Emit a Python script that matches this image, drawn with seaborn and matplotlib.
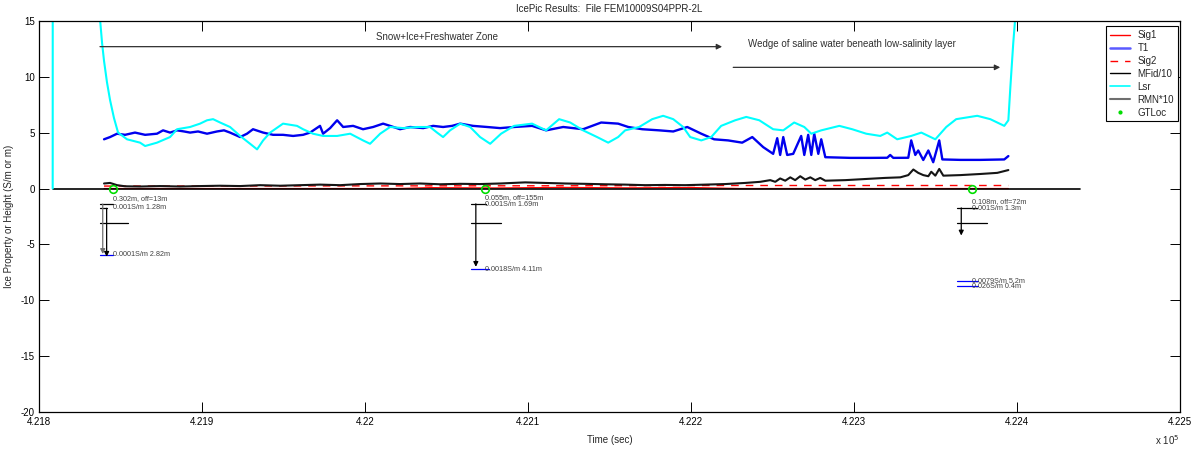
import matplotlib
matplotlib.use("Agg")
import matplotlib.pyplot as plt
import pandas as pd
import seaborn as sns
from matplotlib.lines import Line2D

# ---------------------------------------------------------------- series data
# T1 (S/m) along the survey line
t1_time = [421839.9, 421843.6, 421847.9, 421852.8, 421858.9, 421865.1, 421872.4, 421876.1, 421880.4, 421884.7,
           421889.0, 421892.7, 421897.6, 421903.1, 421909.2, 421913.5, 421917.2, 421923.4, 421927.6, 421931.3,
           421937.5, 421943.6, 421949.7, 421955.9, 421962.0, 421966.3, 421972.4, 421974.3, 421978.6, 421982.9,
           421986.6, 421992.7, 421998.8, 422005.0, 422011.1, 422015.4, 422021.5, 422027.7, 422035.7, 422041.8,
           422047.9, 422053.4, 422058.4, 422066.3, 422074.9, 422082.9, 422091.5, 422102.5, 422111.1, 422121.6,
           422133.8, 422144.9, 422155.3, 422161.5, 422170.1, 422180.5, 422189.1, 422197.7, 422206.3, 422214.2,
           422222.8, 422231.4, 422237.6, 422244.3, 422250.4, 422252.9, 422254.7, 422256.6, 422259.0, 422262.7,
           422267.6, 422269.5, 422271.9, 422273.8, 422275.6, 422278.1, 422279.9, 422282.4, 422297.7, 422310.0,
           422320.4, 422322.2, 422324.1, 422333.3, 422335.1, 422337.6, 422339.4, 422342.5, 422345.6, 422348.6,
           422352.3, 422354.2, 422365.2, 422377.5, 422392.2, 422394.7]
t1_value = [4.4, 4.6, 4.9, 4.8, 5.0, 4.8, 4.9, 5.2, 5.0, 5.2,
            5.1, 5.0, 5.1, 4.9, 5.1, 5.2, 5.0, 4.6, 4.9, 5.3,
            5.0, 4.8, 4.8, 4.7, 4.8, 5.0, 5.6, 4.9, 5.4, 6.1,
            5.5, 5.6, 5.3, 5.5, 5.8, 5.6, 5.3, 5.5, 5.4, 5.6,
            5.5, 5.6, 5.8, 5.6, 5.5, 5.4, 5.5, 5.6, 5.2, 5.5,
            5.3, 5.9, 5.8, 5.5, 5.3, 5.2, 5.1, 5.5, 4.9, 4.4,
            4.3, 4.1, 4.6, 3.7, 3.1, 4.5, 3.0, 4.6, 3.0, 3.1,
            4.7, 3.0, 4.8, 3.0, 4.9, 3.1, 4.4, 2.8, 2.74, 2.74,
            2.75, 3.0, 2.74, 2.75, 4.3, 3.0, 3.4, 2.55, 3.4, 2.35,
            4.3, 2.6, 2.56, 2.56, 2.6, 2.9]

# Laser range (m)
lsr_time = [421808.4, 421808.5, 421836.8, 421837.4, 421838.7, 421839.9, 421841.7, 421843.6, 421846.0, 421848.5,
            421854.0, 421862.0, 421865.1, 421872.4, 421880.4, 421884.7, 421892.7, 421898.8, 421903.1, 421906.8,
            421911.1, 421917.2, 421923.4, 421929.5, 421933.8, 421937.5, 421941.8, 421949.7, 421958.3, 421962.0,
            421968.1, 421974.3, 421982.9, 421990.9, 421998.8, 422003.1, 422009.3, 422015.4, 422023.4, 422032.0,
            422039.9, 422044.2, 422047.9, 422052.2, 422058.4, 422064.5, 422070.6, 422076.8, 422083.5, 422091.5,
            422102.5, 422111.1, 422119.1, 422125.9, 422133.8, 422142.4, 422149.2, 422155.3, 422159.6, 422168.2,
            422176.2, 422182.9, 422189.1, 422195.2, 422199.5, 422206.3, 422212.4, 422218.5, 422227.1, 422233.9,
            422241.9, 422250.4, 422256.6, 422263.3, 422269.5, 422273.8, 422279.9, 422291.0, 422298.9, 422307.5,
            422316.1, 422320.4, 422326.5, 422335.1, 422341.3, 422349.9, 422356.6, 422362.7, 422375.6, 422383.6,
            422392.2, 422394.7, 422395.9, 422397.7, 422399.6]
lsr_value = [0.0, 60.0, 40.0, 15.2, 13.0, 11.4, 9.5, 7.9, 6.3, 5.0,
             4.4, 4.1, 3.8, 4.1, 4.6, 5.3, 5.5, 5.8, 6.1, 6.2,
             5.9, 5.5, 4.7, 4.0, 3.5, 4.3, 5.0, 5.8, 5.6, 5.3,
             4.9, 4.7, 4.7, 4.9, 4.3, 4.0, 4.9, 5.5, 5.4, 5.5,
             5.5, 5.0, 4.6, 5.2, 5.8, 5.5, 4.6, 4.0, 4.9, 5.6,
             5.8, 5.2, 6.2, 5.9, 5.2, 4.6, 4.1, 4.6, 5.2, 5.5,
             6.2, 6.5, 6.2, 5.5, 4.6, 4.3, 4.6, 5.6, 6.1, 6.4,
             6.1, 5.3, 5.2, 5.9, 5.5, 4.9, 5.2, 5.6, 5.3, 4.9,
             4.7, 5.0, 4.4, 4.7, 5.0, 4.4, 5.5, 6.2, 6.5, 6.2,
             5.6, 6.1, 9.0, 13.0, 16.5]

# RMN*10 trace
rmn_time = [421839.9, 421843.6, 421847.9, 421852.8, 421862.0, 421874.3, 421886.5, 421898.8, 421911.1, 421923.4,
            421935.6, 421947.9, 421960.2, 421972.4, 421984.7, 421997.0, 422009.3, 422021.5, 422033.8, 422046.1,
            422058.4, 422070.6, 422082.9, 422098.3, 422110.5, 422122.8, 422135.1, 422147.3, 422159.6, 422171.9,
            422184.2, 422196.4, 422208.7, 422221.0, 422233.3, 422242.5, 422248.6, 422251.7, 422254.7, 422257.8,
            422260.9, 422263.9, 422267.0, 422270.1, 422273.2, 422276.2, 422279.3, 422282.4, 422294.6, 422306.9,
            422319.2, 422328.4, 422333.3, 422336.4, 422339.4, 422342.5, 422345.6, 422347.4, 422349.9, 422352.3,
            422354.8, 422365.2, 422377.5, 422387.9, 422394.7]
rmn_value = [0.45, 0.5, 0.3, 0.2, 0.18, 0.22, 0.18, 0.22, 0.25, 0.22,
             0.3, 0.25, 0.3, 0.35, 0.3, 0.4, 0.45, 0.4, 0.45, 0.38,
             0.42, 0.4, 0.45, 0.55, 0.5, 0.45, 0.42, 0.38, 0.35, 0.3,
             0.32, 0.3, 0.35, 0.4, 0.5, 0.6, 0.75, 0.6, 0.9, 0.7,
             1.0, 0.75, 1.1, 0.8, 1.0, 0.75, 0.95, 0.7, 0.75, 0.85,
             0.95, 1.0, 1.2, 1.7, 1.4, 1.2, 1.1, 1.5, 1.15, 1.75,
             1.15, 1.2, 1.3, 1.4, 1.65]

# Sig1 / Sig2 (S/m)
sig1_time = [421839.9, 422020.0, 422040.0, 422080.0, 422120.0, 422160.0, 422200.0, 422230.0, 422394.7]
sig1_value = [0.0, 0.0, 0.08, 0.05, 0.1, 0.06, 0.09, 0.0, 0.0]
sig2_time = [421839.9, 422150.0, 422200.0, 422394.7]
sig2_value = [0.22, 0.25, 0.27, 0.27]

# MFid/10
mfid_time = [421808.4, 422438.8]
mfid_value = [0.0, 0.0]

# ground-truth locations
gt_time = [421845.7, 422073.7, 422372.6]
gt_value = [0.0, 0.0, 0.0]
gt_label = ["0.302m, off=13m", "0.055m, off=155m", "0.108m, off=72m"]

xtick_values = [421800, 421900, 422000, 422100, 422200, 422300, 422400, 422500]
xtick_labels = ["4.218", "4.219", "4.22", "4.221", "4.222", "4.223", "4.224", "4.225"]
ytick_values = [-20, -15, -10, -5, 0, 5, 10, 15]

# ---------------------------------------------------------------- styling
sns.set_theme(style="ticks")
plt.rcParams.update({
    "font.family": ["Liberation Sans", "DejaVu Sans"],
    "font.size": 7,
    "axes.unicode_minus": False,
    "xtick.direction": "in", "ytick.direction": "in",
    "xtick.top": True, "ytick.right": True,
    "xtick.major.size": 7, "ytick.major.size": 7,
    "xtick.major.width": 0.7, "ytick.major.width": 0.7,
    "xtick.major.pad": 3.5, "ytick.major.pad": 3,
    "xtick.labelsize": 7, "ytick.labelsize": 7,
    "axes.linewidth": 0.9, "axes.edgecolor": "black",
    "xtick.color": "black", "ytick.color": "black",
    "text.color": "#262626", "axes.labelcolor": "#262626",
})

W, H = 1198, 449
fig = plt.figure(figsize=(W / 100, H / 100), dpi=100)
ax = fig.add_axes([39 / W, 1 - 412.3 / H, 1141 / W, 391.6 / H])


def draw(t, v, **kw):
    df = pd.DataFrame({"t": t, "v": v})
    sns.lineplot(data=df, x="t", y="v", ax=ax, estimator=None, sort=False,
                 legend=False, **kw)


draw(sig1_time, sig1_value, color="red", lw=0.9)
draw(t1_time, t1_value, color="#0000ee", lw=1.7)
draw(sig2_time, sig2_value, color="red", lw=1.0, linestyle=(0, (5.5, 5)))
draw(mfid_time, mfid_value, color="black", lw=1.2)
draw(lsr_time, lsr_value, color="cyan", lw=1.5)
draw(rmn_time, rmn_value, color="#151515", lw=1.5)
ax.plot(gt_time, gt_value, linestyle="none", marker="o", markersize=5.5,
        markerfacecolor="none", markeredgecolor="#00dd00", markeredgewidth=1.2,
        zorder=5)

ax.set_xlim(421800, 422500)
ax.set_ylim(-20, 15)
ax.set_xticks(xtick_values)
ax.set_xticklabels(xtick_labels)
ax.set_yticks(ytick_values)
ax.set_xlabel("Time (sec)", fontsize=7, labelpad=6)
ax.set_ylabel("Ice Property or Height (S/m or m)", fontsize=7, labelpad=5)
ax.set_title("IcePic Results:  File FEM10009S04PPR-2L", fontsize=7, pad=6)
fig.text(1167 / W, 1 - 440 / H, "x 10$^{5}$", fontsize=7, ha="center",
         va="center", color="#262626")

# ---------------------------------------------------------------- zone arrows
zone_kw = dict(arrowstyle="-|>", color="#303030", lw=0.9, mutation_scale=8,
               shrinkA=0, shrinkB=0)
ax.annotate("", xy=(422219.1, 12.68), xytext=(421837.4, 12.68), arrowprops=zone_kw)
ax.text(422044.2, 13.57, "Snow+Ice+Freshwater Zone", ha="center", va="center",
        fontsize=7, color="#303030")
ax.annotate("", xy=(422389.7, 10.83), xytext=(422225.9, 10.83), arrowprops=zone_kw)
ax.text(422235.1, 12.95, "Wedge of saline water beneath low-salinity layer",
        ha="left", va="center", fontsize=7, color="#303030")

# ---------------------------------------------------------------- layer markup at GT points
note_col = "#404040"
note_fs = 5.2
drop_kw = dict(arrowstyle="-|>", color="black", lw=0.9, mutation_scale=7,
               shrinkA=0, shrinkB=0)


def hseg(y, x0, x1, color="black", lw=0.9):
    ax.plot([x0, x1], [y, y], color=color, lw=lw, zorder=3)


# first location
hseg(-1.39, 421837.4, 421845.4)
hseg(-1.77, 421837.4, 421841.7)
hseg(-3.06, 421837.4, 421854.6)
hseg(-5.9, 421837.4, 421845.4, color="blue")
ax.annotate("", xy=(421839.1, -5.85), xytext=(421839.1, -1.39),
            arrowprops=dict(drop_kw, color="#707070"))
ax.annotate("", xy=(421841.5, -6.1), xytext=(421841.5, -1.77), arrowprops=drop_kw)
ax.text(gt_time[0], -0.92, gt_label[0], fontsize=note_fs, color=note_col, va="center")
ax.text(gt_time[0], -1.70, "0.001S/m 1.28m", fontsize=note_fs, color=note_col, va="center")
ax.text(gt_time[0], -5.90, "0.0001S/m 2.82m", fontsize=note_fs, color=note_col, va="center")

# second location
hseg(-1.37, 422065.1, 422074.3)
hseg(-3.06, 422065.1, 422083.5)
hseg(-7.23, 422065.1, 422076.0, color="blue")
ax.annotate("", xy=(422068.0, -7.0), xytext=(422068.0, -1.37), arrowprops=drop_kw)
ax.text(gt_time[1], -0.83, gt_label[1], fontsize=note_fs, color=note_col, va="center")
ax.text(gt_time[1], -1.40, "0.001S/m 1.69m", fontsize=note_fs, color=note_col, va="center")
ax.text(gt_time[1], -7.20, "0.0018S/m 4.11m", fontsize=note_fs, color=note_col, va="center")

# third location
hseg(-1.73, 422363.3, 422375.6)
hseg(-3.06, 422363.3, 422381.8)
hseg(-8.30, 422363.3, 422376.0, color="blue")
hseg(-8.70, 422363.3, 422376.0, color="blue")
ax.annotate("", xy=(422365.8, -4.2), xytext=(422365.8, -1.73), arrowprops=drop_kw)
ax.text(gt_time[2], -1.16, gt_label[2], fontsize=note_fs, color=note_col, va="center")
ax.text(gt_time[2], -1.76, "0.001S/m 1.3m", fontsize=note_fs, color=note_col, va="center")
ax.text(gt_time[2], -8.30, "0.0079S/m 5.2m", fontsize=note_fs, color=note_col, va="center")
ax.text(gt_time[2], -8.75, "0.026S/m 0.4m", fontsize=note_fs, color=note_col, va="center")

# ---------------------------------------------------------------- legend
handles = [
    Line2D([], [], color="red", lw=1.0),
    Line2D([], [], color="#5a5aff", lw=1.8),
    Line2D([], [], color="red", lw=1.0, linestyle=(0, (5.5, 5))),
    Line2D([], [], color="black", lw=1.0),
    Line2D([], [], color="cyan", lw=1.2),
    Line2D([], [], color="#6e6e6e", lw=1.5),
    Line2D([], [], linestyle="none", marker=".", markersize=4, color="#00dd00"),
]
labels = ["Sig1", "T1", "Sig2", "MFid/10", "Lsr", "RMN*10", "GTLoc"]
leg = ax.legend(handles, labels, loc="upper right", bbox_to_anchor=(0.998, 0.986),
                borderaxespad=0, frameon=True, fancybox=False, edgecolor="black",
                framealpha=1, fontsize=7, handlelength=2.0, labelspacing=0.3,
                borderpad=0.4, handletextpad=0.8)
leg.get_frame().set_linewidth(0.8)

fig.savefig("out.png", dpi=100)
